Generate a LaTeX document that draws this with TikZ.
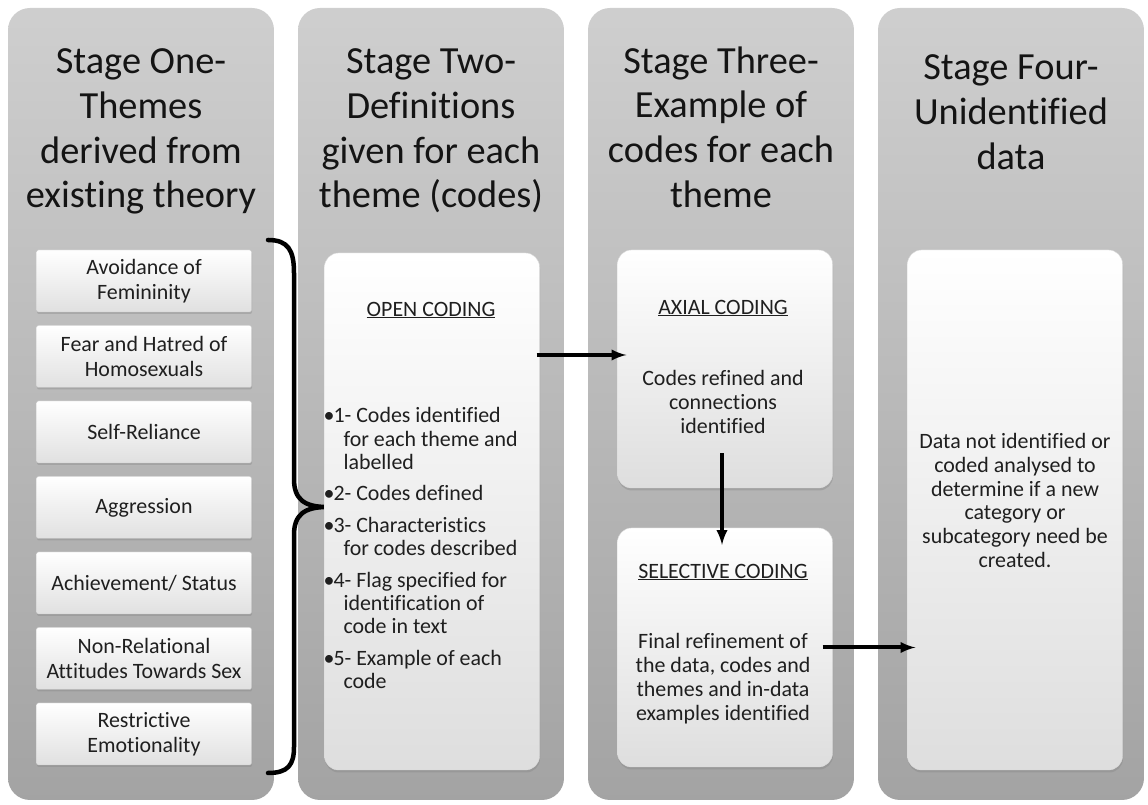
\documentclass[tikz,border=0pt]{standalone}
\usepackage{fontspec}
\setmainfont[Ligatures=NoCommon]{Carlito}
\usetikzlibrary{shadows}

\begin{document}
\begin{tikzpicture}[>=latex,line join=bevel,
  stage/.style={rectangle,rounded corners=22bp,minimum width=266bp,minimum height=792bp,top color=gray!38,bottom color=gray!72},
  title/.style={anchor=north,align=center,text=black!92,font=\fontsize{38.5}{45}\selectfont},
  theme/.style={rectangle,rounded corners=2bp,minimum width=215bp,minimum height=62bp,top color=white,bottom color=gray!24,draw=gray!45,drop shadow={opacity=0.35,shadow xshift=0.5bp,shadow yshift=-2bp},align=center,text=black!88,font=\fontsize{22}{25}\selectfont},
  panel/.style={rectangle,rounded corners=14bp,minimum width=215bp,top color=white,bottom color=gray!26,draw=gray!30,drop shadow={opacity=0.35,shadow xshift=0.5bp,shadow yshift=-2.5bp}},
  txt/.style={align=center,text=black!88,font=\fontsize{22}{24}\selectfont},
  flow/.style={->,line width=4bp},
]
\useasboundingbox (0bp,0bp) rectangle (1148bp,805bp);
%% columns
\node (s1) at (141bp,401bp) [stage] {};
\node (s2) at (431bp,401bp) [stage] {};
\node (s3) at (721bp,401bp) [stage] {};
\node (s4) at (1011bp,401bp) [stage] {};
\node (t1) at (141bp,760bp) [title] {Stage One-\\Themes\\derived from\\existing theory};
\node (t2) at (431bp,760bp) [title] {Stage Two-\\Definitions\\given for each\\theme (codes)};
\node (t3) at (721bp,762bp) [title] {Stage Three-\\Example of\\codes for each\\theme};
\node (t4) at (1011bp,754bp) [title] {Stage Four-\\Unidentified\\data};
%% themes
\node (fem) at (144bp,524bp) [theme] {Avoidance of\\Femininity};
\node (homo) at (144bp,448.5bp) [theme] {Fear and Hatred of\\Homosexuals};
\node (self) at (144bp,373bp) [theme] {Self-Reliance};
\node (aggr) at (144bp,297.5bp) [theme] {Aggression};
\node (stat) at (144bp,222bp) [theme] {Achievement/ Status};
\node (sex) at (144bp,146.5bp) [theme] {Non-Relational\\Attitudes Towards Sex};
\node (emot) at (144bp,71bp) [theme] {Restrictive\\Emotionality};
\draw [line width=4.5bp,line cap=round] (268bp,565bp) .. controls (288bp,565bp) and (294bp,555bp) .. (294bp,532bp) -- (294bp,326bp) .. controls (294bp,306bp) and (304bp,298bp) .. (327bp,298bp) .. controls (304bp,298bp) and (294bp,290bp) .. (294bp,270bp) -- (294bp,58bp) .. controls (294bp,40bp) and (288bp,32bp) .. (268bp,32bp);
%% panels
\node (open) at (432bp,293.5bp) [panel,minimum height=517bp] {};
\node (axial) at (725bp,436bp) [panel,minimum height=238bp] {};
\node (select) at (725bp,157.5bp) [panel,minimum height=239bp] {};
\node (data) at (1015bp,295bp) [panel,minimum height=520bp] {};
\node (openhd) at (431bp,495bp) [txt] {\underline{OPEN CODING}};
\node (openls) at (320bp,254bp) [anchor=west,text=black!88,font=\fontsize{22}{23.5}\selectfont]
  {\begin{tabular}{@{}l@{}}
  \makebox[10bp][l]{•}1- Codes identified\\ \hspace*{20bp}for each theme and\\ \hspace*{20bp}labelled\\[8bp]
  \makebox[10bp][l]{•}2- Codes defined\\[8bp]
  \makebox[10bp][l]{•}3- Characteristics\\ \hspace*{20bp}for codes described\\[8bp]
  \makebox[10bp][l]{•}4- Flag specified for\\ \hspace*{20bp}identification of\\ \hspace*{20bp}code in text\\[8bp]
  \makebox[10bp][l]{•}5- Example of each\\ \hspace*{20bp}code
  \end{tabular}};
\node (axialhd) at (723bp,497bp) [txt] {\underline{AXIAL CODING}};
\node (axialtx) at (723bp,403bp) [txt] {Codes refined and\\connections\\identified};
\node (selecthd) at (723bp,233bp) [txt] {\underline{SELECTIVE CODING}};
\node (selecttx) at (723bp,126bp) [txt] {Final refinement of\\the data, codes and\\themes and in-data\\examples identified};
\node (datatx) at (1015bp,304.5bp) [txt] {Data not identified or\\coded analysed to\\determine if a new\\category or\\subcategory need be\\created.};
%% arrows
\draw [flow,shorten <=-3bp,shorten >=-9bp] (open.east |- 0,450bp) -- (axial.west |- 0,450bp);
\draw [flow,shorten <=-35bp,shorten >=-17bp] (axial.south -| 722bp,0) -- (select.north -| 722bp,0);
\draw [flow,shorten <=-10bp,shorten >=-8bp] (select.east) -- (select.east -| data.west);
%
\end{tikzpicture}
\end{document}
